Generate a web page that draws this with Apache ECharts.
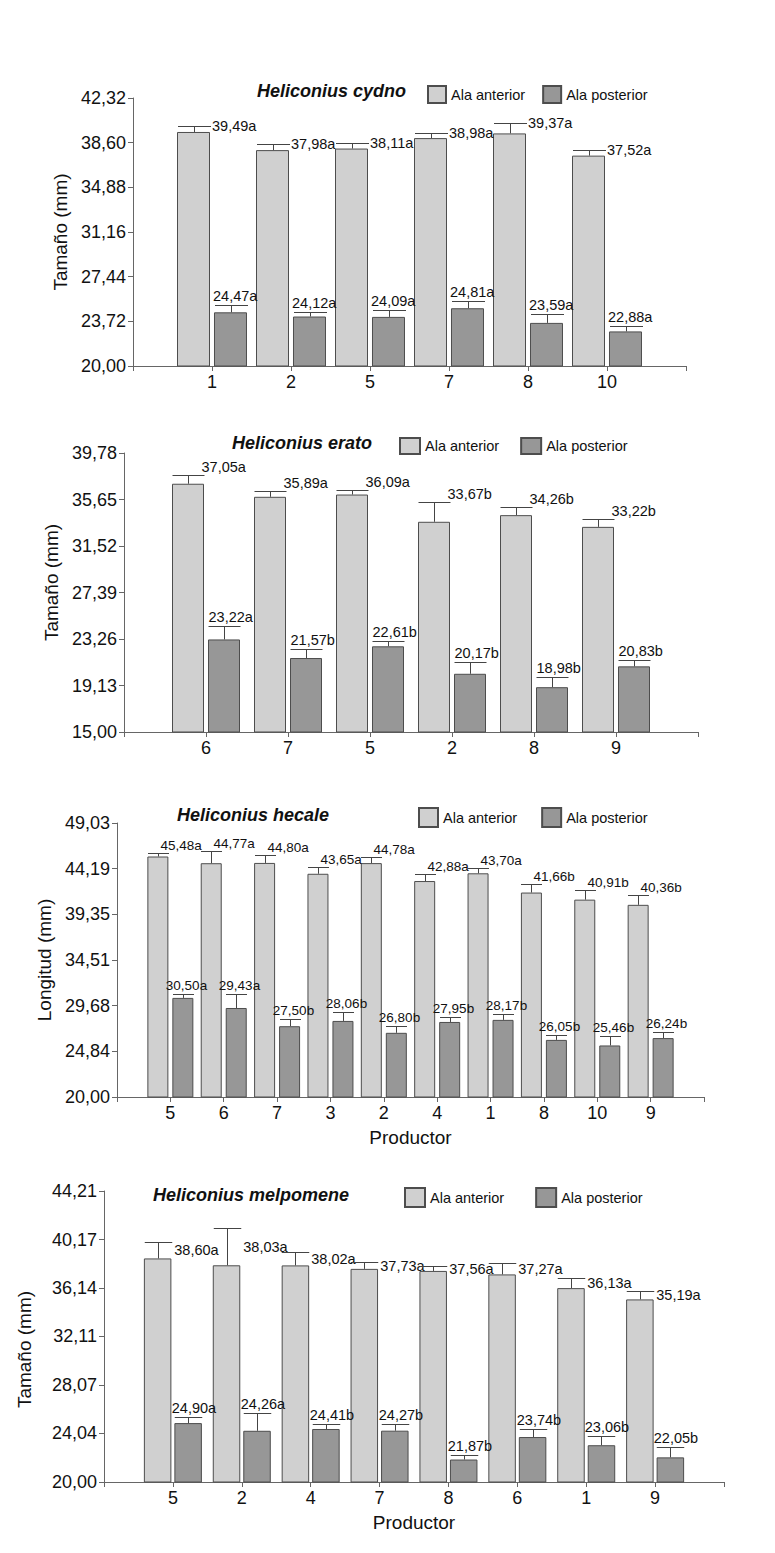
<!DOCTYPE html>
<html>
<head>
<meta charset="utf-8">
<script src="https://cdn.jsdelivr.net/npm/echarts@6/dist/echarts.min.js"></script>
<style>
html,body{margin:0;padding:0;background:#ffffff;}
#chart{width:775px;height:1553px;}
</style>
</head>
<body>
<div id="chart"></div>
<script>
// ---------------- DATA ----------------
// Heliconius cydno
const cats1    = ['1', '2', '5', '7', '8', '10'];
const ant1     = [39.49, 37.98, 38.11, 38.98, 39.37, 37.52];
const antErr1  = [0.50, 0.50, 0.45, 0.43, 0.87, 0.49];
const antLet1  = ['a', 'a', 'a', 'a', 'a', 'a'];
const post1    = [24.47, 24.12, 24.09, 24.81, 23.59, 22.88];
const postErr1 = [0.60, 0.40, 0.55, 0.64, 0.75, 0.46];
const postLet1 = ['a', 'a', 'a', 'a', 'a', 'a'];
const yTicks1  = ['20,00', '23,72', '27,44', '31,16', '34,88', '38,60', '42,32'];

// Heliconius erato
const cats2    = ['6', '7', '5', '2', '8', '9'];
const ant2     = [37.05, 35.89, 36.09, 33.67, 34.26, 33.22];
const antErr2  = [0.81, 0.51, 0.37, 1.76, 0.69, 0.73];
const antLet2  = ['a', 'a', 'a', 'b', 'b', 'b'];
const post2    = [23.22, 21.57, 22.61, 20.17, 18.98, 20.83];
const postErr2 = [1.19, 0.84, 0.47, 1.05, 0.90, 0.54];
const postLet2 = ['a', 'b', 'b', 'b', 'b', 'b'];
const yTicks2  = ['15,00', '19,13', '23,26', '27,39', '31,52', '35,65', '39,78'];

// Heliconius hecale
const cats3    = ['5', '6', '7', '3', '2', '4', '1', '8', '10', '9'];
const ant3     = [45.48, 44.77, 44.80, 43.65, 44.78, 42.88, 43.70, 41.66, 40.91, 40.36];
const antErr3  = [0.41, 1.26, 0.88, 0.72, 0.62, 0.79, 0.57, 0.88, 0.97, 1.09];
const antLet3  = ['a', 'a', 'a', 'a', 'a', 'a', 'a', 'b', 'b', 'b'];
const post3    = [30.50, 29.43, 27.50, 28.06, 26.80, 27.95, 28.17, 26.05, 25.46, 26.24];
const postErr3 = [0.39, 1.52, 0.78, 0.99, 0.77, 0.57, 0.63, 0.53, 1.05, 0.69];
const postLet3 = ['a', 'a', 'b', 'b', 'b', 'b', 'b', 'b', 'b', 'b'];
const yTicks3  = ['20,00', '24,84', '29,68', '34,51', '39,35', '44,19', '49,03'];

// Heliconius melpomene
const cats4    = ['5', '2', '4', '7', '8', '6', '1', '9'];
const ant4     = [38.60, 38.03, 38.02, 37.73, 37.56, 37.27, 36.13, 35.19];
const antErr4  = [1.37, 3.13, 1.11, 0.57, 0.41, 0.95, 0.87, 0.70];
const antLet4  = ['a', 'a', 'a', 'a', 'a', 'a', 'a', 'a'];
const post4    = [24.90, 24.26, 24.41, 24.27, 21.87, 23.74, 23.06, 22.05];
const postErr4 = [0.51, 1.48, 0.39, 0.59, 0.41, 0.67, 0.80, 0.86];
const postLet4 = ['a', 'a', 'b', 'b', 'b', 'b', 'b', 'b'];
const yTicks4  = ['20,00', '24,04', '28,07', '32,11', '36,14', '40,17', '44,21'];

const seriesNames = ['Ala anterior', 'Ala posterior'];
const titles = ['Heliconius cydno', 'Heliconius erato', 'Heliconius hecale', 'Heliconius melpomene'];
const yNames = ['Tamaño (mm)', 'Tamaño (mm)', 'Longitud (mm)', 'Tamaño (mm)'];
const xNames = ['', '', 'Productor', 'Productor'];

// ---------------- STYLE / LAYOUT ----------------
const FONT = '"Liberation Sans", Arial, Helvetica, sans-serif';
const ANT_COLOR = '#d0d0d0';
const POST_COLOR = '#979797';
const EDGE = '#4d4d4d';
const AXIS = '#666666';
const ERR = '#444444';
const TXT = '#111111';

const panels = [
  { grid: { left: 133, top: 98, width: 553, height: 268 }, barW: 33, gapPx: 4,
    titleX: 257, titleY: 82, legendX: 427, legendY: 85, legendW: 18, legendH: 17, legendGap: 17,
    yNameGap: 59, yNamePad: [0, 0, 0, 0], labelFont: 14.5, antMode: 'rightMid', postMode: 'leftBottom', postDx: -2 },
  { grid: { left: 124, top: 453, width: 574, height: 279 }, barW: 32, gapPx: 4,
    titleX: 232, titleY: 434, legendX: 399, legendY: 437, legendW: 20, legendH: 16, legendGap: 21,
    yNameGap: 60, yNamePad: [0, 0, 0, 20], labelFont: 14.5, antMode: 'rightBottom', postMode: 'leftBottom', postDx: 0 },
  { grid: { left: 117, top: 823, width: 587, height: 274 }, barW: 21, gapPx: 4,
    titleX: 177, titleY: 806, legendX: 418, legendY: 807, legendW: 19, legendH: 19, legendGap: 24,
    yNameGap: 63, yNamePad: [0, 0, 0, 0], labelFont: 13.5, antMode: 'overBottom', postMode: 'centerBottom', postDx: 3 },
  { grid: { left: 104, top: 1191, width: 620, height: 291 }, barW: 27.5, gapPx: 3,
    titleX: 153, titleY: 1186, legendX: 404, legendY: 1187, legendW: 20, legendH: 19, legendGap: 31,
    yNameGap: 70, yNamePad: [0, 26, 0, 0], labelFont: 14.5, antMode: 'rightBetween', postMode: 'leftBottom', postDx: -3 }
];
const panelData = [
  { cats: cats1, ant: ant1, antErr: antErr1, antLet: antLet1, post: post1, postErr: postErr1, postLet: postLet1, yTicks: yTicks1 },
  { cats: cats2, ant: ant2, antErr: antErr2, antLet: antLet2, post: post2, postErr: postErr2, postLet: postLet2, yTicks: yTicks2 },
  { cats: cats3, ant: ant3, antErr: antErr3, antLet: antLet3, post: post3, postErr: postErr3, postLet: postLet3, yTicks: yTicks3 },
  { cats: cats4, ant: ant4, antErr: antErr4, antLet: antLet4, post: post4, postErr: postErr4, postLet: postLet4, yTicks: yTicks4 }
];

const fmt = v => v.toFixed(2).replace('.', ',');
const parseTick = s => parseFloat(s.replace(',', '.'));

function makeRender(p, labels) {
  return function (params, api) {
    const xi = api.value(0), v = api.value(1), e = api.value(2), side = api.value(3);
    const base = api.coord([xi, v]);
    const top = api.coord([xi, v + e]);
    const off = (p.barW + p.gapPx) / 2;
    const cx = Math.round(base[0] + (side === 0 ? -off : off)) + 0.5;
    const half = p.barW / 2;
    const capY = Math.round(top[1]) + 0.5;
    const barY = base[1];
    const lab = labels[params.dataIndex];
    let tx, ty, align = 'left', va = 'bottom';
    if (side === 0) {
      if (p.antMode === 'rightMid') { tx = cx + half + 1; ty = capY - 1; va = 'middle'; }
      else if (p.antMode === 'rightBottom') { tx = cx + half - 3; ty = capY - 1; va = 'bottom'; }
      else if (p.antMode === 'overBottom') { tx = cx + 2; ty = capY - 1; va = 'bottom'; }
      else { tx = cx + half + 2; ty = (capY + barY) / 2; va = 'middle'; }
    } else {
      if (p.postMode === 'centerBottom') { tx = cx + p.postDx; ty = capY - 2; align = 'center'; }
      else { tx = cx - half + p.postDx; ty = capY - 2; align = 'left'; }
    }
    return {
      type: 'group',
      children: [
        { type: 'line', shape: { x1: cx, y1: barY, x2: cx, y2: capY }, style: { stroke: ERR, lineWidth: 1 } },
        { type: 'line', shape: { x1: cx - half, y1: capY, x2: cx + half, y2: capY }, style: { stroke: ERR, lineWidth: 1 } },
        { type: 'text', style: { text: lab, x: tx, y: ty, align: align, verticalAlign: va, fill: TXT,
          fontSize: p.labelFont, fontFamily: FONT } }
      ]
    };
  };
}

const option = {
  animation: false,
  backgroundColor: '#ffffff',
  title: [], legend: [], grid: [], xAxis: [], yAxis: [], series: []
};

panels.forEach((p, k) => {
  const d = panelData[k];
  const ticks = d.yTicks.map(parseTick);
  option.grid.push(Object.assign({ containLabel: false }, p.grid));
  option.title.push({
    text: titles[k], left: p.titleX, top: p.titleY, padding: 0,
    textStyle: { fontSize: 18, fontWeight: 'bold', fontStyle: 'italic', fontFamily: FONT, color: TXT }
  });
  option.legend.push({
    left: p.legendX, top: p.legendY, padding: 0, orient: 'horizontal',
    itemWidth: p.legendW, itemHeight: p.legendH, itemGap: p.legendGap, icon: 'rect',
    selectedMode: false, data: seriesNames,
    textStyle: { fontSize: 14.5, fontFamily: FONT, color: TXT }
  });
  const xData = [' '].concat(d.cats, ['  ']);
  option.xAxis.push({
    type: 'category', gridIndex: k, data: xData, boundaryGap: false,
    name: xNames[k], nameLocation: 'middle', nameGap: 31,
    nameTextStyle: { fontSize: 19, fontFamily: FONT, color: TXT },
    axisLine: { show: true, lineStyle: { color: AXIS, width: 1 } },
    axisTick: { show: true, interval: 0, length: 5, lineStyle: { color: AXIS } },
    axisLabel: { interval: 0, margin: 7, fontSize: 18, fontFamily: FONT, color: TXT },
    splitLine: { show: false }
  });
  option.yAxis.push({
    type: 'value', gridIndex: k, min: ticks[0], max: ticks[ticks.length - 1],
    name: yNames[k], nameLocation: 'middle', nameGap: p.yNameGap,
    nameTextStyle: { fontSize: 19, fontFamily: FONT, color: TXT, padding: p.yNamePad },
    axisLine: { show: true, lineStyle: { color: AXIS, width: 1 } },
    axisTick: { show: true, length: 5, customValues: ticks, lineStyle: { color: AXIS } },
    axisLabel: { customValues: ticks, margin: 7, fontSize: 18, fontFamily: FONT, color: TXT, formatter: fmt },
    splitLine: { show: false }
  });
  const gapPct = (p.gapPx / p.barW * 100).toFixed(1) + '%';
  option.series.push({
    name: seriesNames[0], type: 'bar', xAxisIndex: k, yAxisIndex: k,
    data: ['-'].concat(d.ant, ['-']), barWidth: p.barW, barGap: gapPct,
    itemStyle: { color: ANT_COLOR, borderColor: EDGE, borderWidth: 1 }
  });
  option.series.push({
    name: seriesNames[1], type: 'bar', xAxisIndex: k, yAxisIndex: k,
    data: ['-'].concat(d.post, ['-']), barWidth: p.barW, barGap: gapPct,
    itemStyle: { color: POST_COLOR, borderColor: EDGE, borderWidth: 1 }
  });
  const errData = [], labels = [];
  d.cats.forEach((c, i) => {
    errData.push([i + 1, d.ant[i], d.antErr[i], 0]);
    labels.push(fmt(d.ant[i]) + d.antLet[i]);
    errData.push([i + 1, d.post[i], d.postErr[i], 1]);
    labels.push(fmt(d.post[i]) + d.postLet[i]);
  });
  option.series.push({
    type: 'custom', xAxisIndex: k, yAxisIndex: k, z: 5, silent: true,
    encode: { x: 0, y: 1 }, data: errData, clip: false,
    renderItem: makeRender(p, labels)
  });
});

const chart = echarts.init(document.getElementById('chart'), null, { renderer: 'svg' });
chart.setOption(option);
</script>
</body>
</html>
